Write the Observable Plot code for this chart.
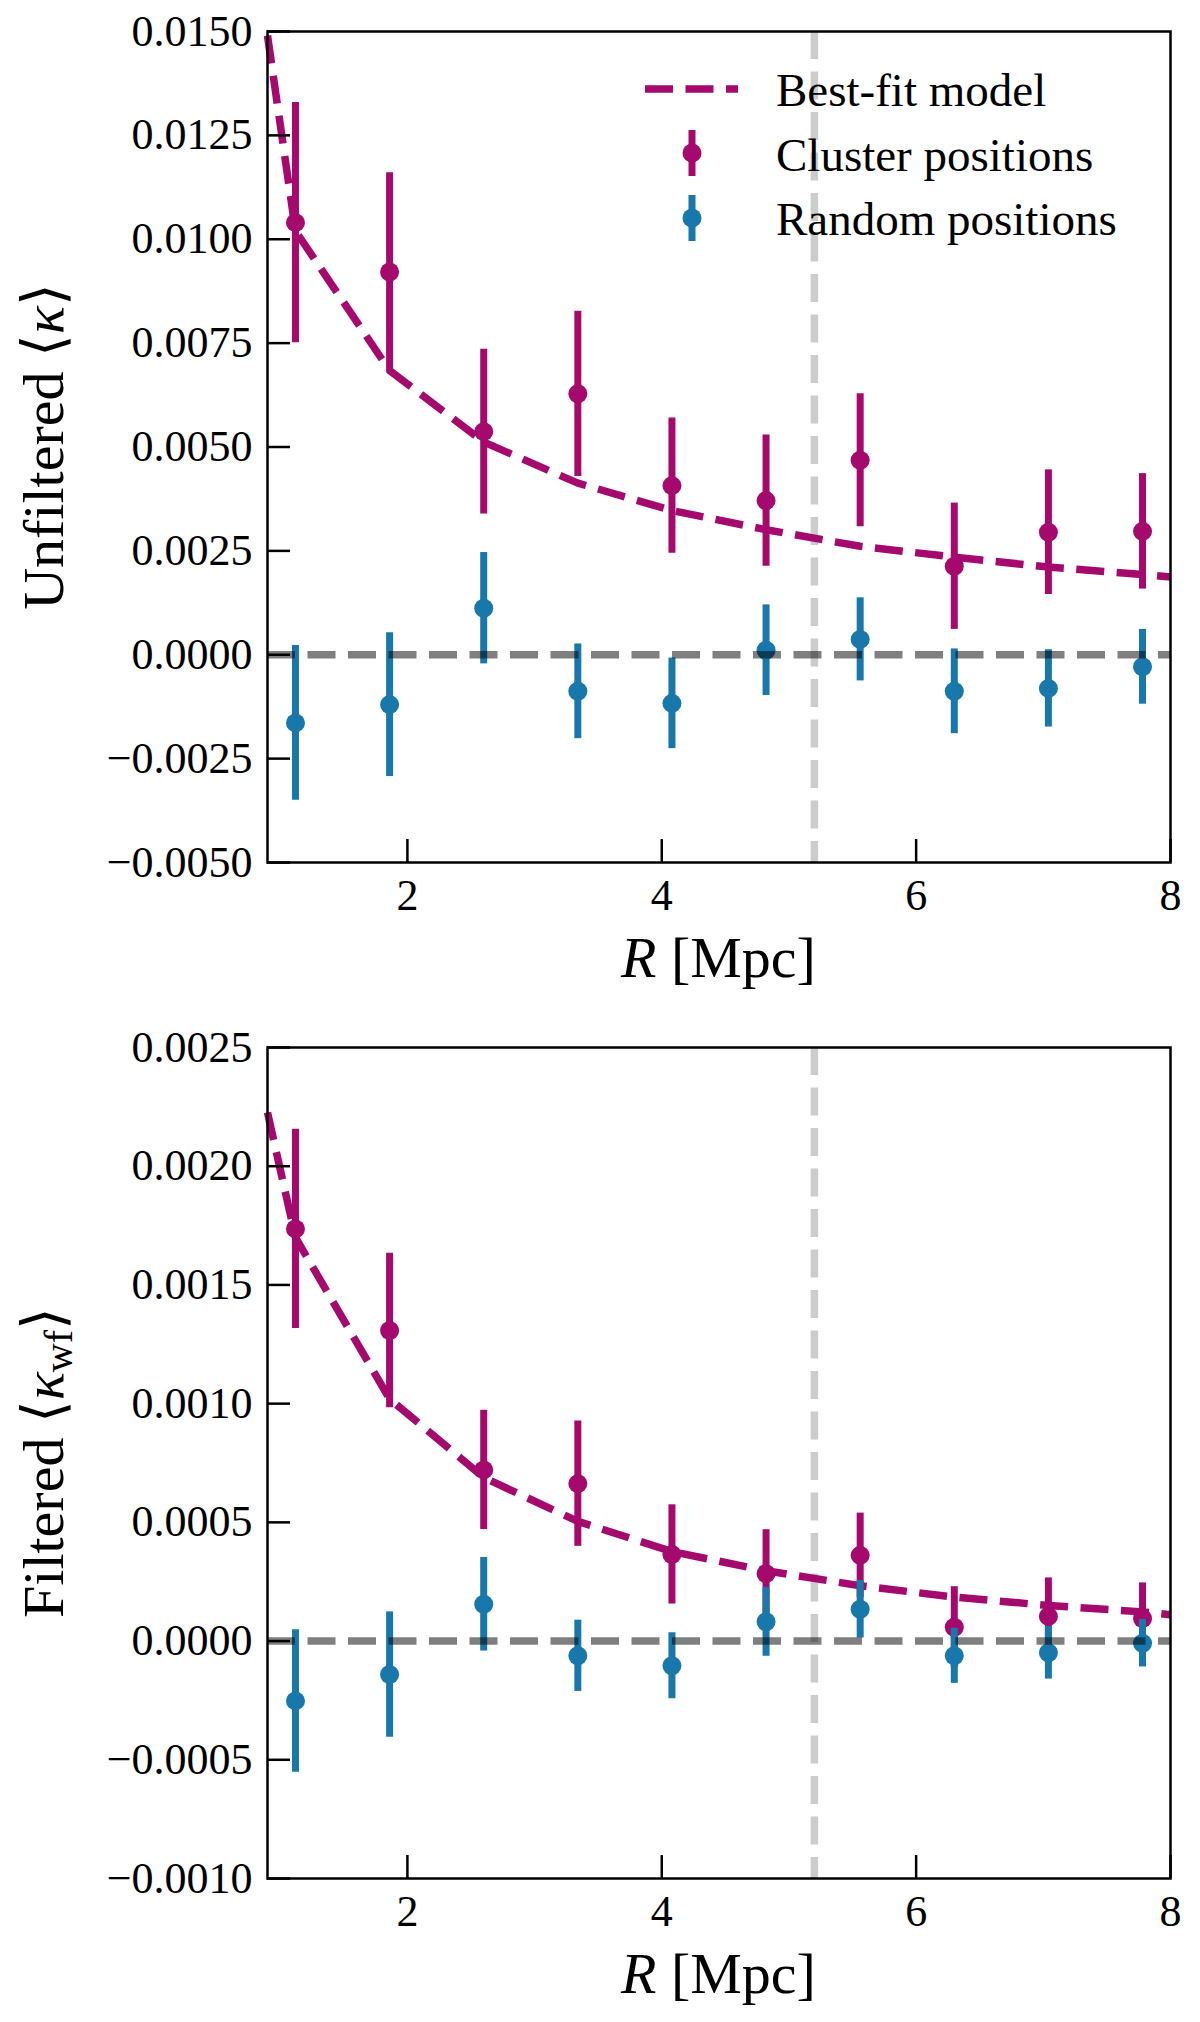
<!DOCTYPE html>
<html>
<head>
<meta charset="utf-8">
<script src="https://cdn.jsdelivr.net/npm/d3@7"></script>
<script src="https://cdn.jsdelivr.net/npm/@observablehq/plot@0.6"></script>
<style>
  body { margin: 0; background: white; overflow: hidden; }
  #chart { width: 1200px; }
  #chart svg { display: block; }
</style>
</head>
<body>
<div id="chart"></div>
<script>
  // radial bins [Mpc]
  const radius = [1.12, 1.86, 2.60, 3.34, 4.08, 4.82, 5.56, 6.30, 7.04, 7.78];
  const cutRadius = 5.2;
  const xTicks = [2, 4, 6, 8];

  // unfiltered <kappa>
  const unfCluster    = [0.01040, 0.00921, 0.00537, 0.00628, 0.00407, 0.00371, 0.00468, 0.00213, 0.00295, 0.00297];
  const unfClusterErr = [0.00289, 0.00239, 0.00198, 0.00199, 0.00163, 0.00158, 0.00160, 0.00152, 0.00150, 0.00139];
  const unfRandom     = [-0.00164, -0.00120, 0.00112, -0.00088, -0.00117, 0.00011, 0.00037, -0.00088, -0.00081, -0.00029];
  const unfRandomErr  = [0.00186, 0.00173, 0.00134, 0.00114, 0.00109, 0.00109, 0.00100, 0.00102, 0.00093, 0.00090];
  const unfModelR     = [0.9, 1.12, 1.86, 2.60, 3.34, 4.08, 4.82, 5.56, 6.30, 7.04, 7.78, 8.0];
  const unfModel      = [0.0149, 0.0102, 0.00684, 0.00512, 0.00413, 0.00347, 0.00301, 0.00261, 0.00235, 0.00211, 0.00193, 0.00187];
  const unfTicks      = [-0.005, -0.0025, 0, 0.0025, 0.005, 0.0075, 0.01, 0.0125, 0.015];

  // filtered <kappa_wf>
  const filCluster    = [0.001736, 0.001308, 0.000721, 0.000663, 0.000365, 0.000284, 0.000361, 0.000058, 0.000104, 0.000095];
  const filClusterErr = [0.000420, 0.000325, 0.000251, 0.000264, 0.000209, 0.000185, 0.000178, 0.000171, 0.000162, 0.000150];
  const filRandom     = [-0.000252, -0.000141, 0.000155, -0.000062, -0.000104, 0.000081, 0.000134, -0.000062, -0.000049, -0.000009];
  const filRandomErr  = [0.000300, 0.000264, 0.000197, 0.000150, 0.000139, 0.000145, 0.000121, 0.000116, 0.000111, 0.000100];
  const filModelR     = [0.9, 1.12, 1.86, 2.60, 3.34, 4.08, 4.82, 5.56, 6.30, 7.04, 7.78, 8.0];
  const filModel      = [0.002226, 0.00170, 0.00102, 0.000689, 0.000504, 0.000377, 0.000296, 0.000233, 0.000185, 0.000150, 0.000123, 0.000111];
  const filTicks      = [-0.001, -0.0005, 0, 0.0005, 0.001, 0.0015, 0.002, 0.0025];

  const magenta = "#a6096e";
  const blue = "#1978ab";
  const dash = "28,12.5";
  const serif = "Liberation Serif, serif";

  function panel(opts) {
    const clusterData = radius.map((r, i) => ({r, v: opts.cluster[i], e: opts.clusterErr[i]}));
    const randomData = radius.map((r, i) => ({r, v: opts.random[i], e: opts.randomErr[i]}));
    const modelData = opts.modelR.map((r, i) => ({r, v: opts.model[i]}));

    const chart = Plot.plot({
      width: 1200,
      height: 1011,
      marginLeft: 267,
      marginRight: 30,
      marginTop: opts.marginTop,
      marginBottom: 1011 - opts.marginTop - 831,
      x: {domain: [0.9, 8], label: null},
      y: {domain: opts.domain, label: null},
      style: {fontFamily: serif, background: "white", color: "black"},
      marks: [
        Plot.ruleX([cutRadius], {stroke: "#cccccc", strokeWidth: 7.5, strokeDasharray: dash}),
        Plot.line(modelData, {x: "r", y: "v", stroke: magenta, strokeWidth: 7.5,
          strokeDasharray: dash, strokeLinecap: "butt"}),
        Plot.ruleX(clusterData, {x: "r", y1: d => d.v - d.e, y2: d => d.v + d.e, stroke: magenta, strokeWidth: 7}),
        Plot.dot(clusterData, {x: "r", y: "v", r: 9.5, fill: magenta}),
        Plot.ruleX(randomData, {x: "r", y1: d => d.v - d.e, y2: d => d.v + d.e, stroke: blue, strokeWidth: 7}),
        Plot.dot(randomData, {x: "r", y: "v", r: 9.5, fill: blue}),
        Plot.ruleY([0], {stroke: "black", strokeOpacity: 0.5, strokeWidth: 7.5, strokeDasharray: dash}),
        Plot.frame({stroke: "black", strokeWidth: 2.5}),
        // inward ticks
        Plot.axisY({ticks: opts.ticks, tickSize: 23, dx: 23, text: null, strokeWidth: 2.5, label: null}),
        Plot.axisY({ticks: opts.ticks, tickSize: 0, tickPadding: 15, tickFormat: d3.format(".4f"),
          fontSize: 44, fontFamily: serif, label: null}),
        Plot.axisX({ticks: xTicks, tickSize: 23, dy: -23, text: null, strokeWidth: 2.5, label: null}),
        Plot.axisX({ticks: xTicks, tickSize: 0, tickPadding: 16, tickFormat: d3.format("d"),
          fontSize: 44, fontFamily: serif, label: null})
      ]
    });

    const svg = d3.select(chart);
    const frameBottom = opts.marginTop + 831;

    // x label
    const xl = svg.append("text")
      .attr("x", 718.5).attr("y", frameBottom + 115)
      .attr("text-anchor", "middle")
      .style("font-family", serif).style("font-size", "58px").attr("fill", "black");
    xl.append("tspan").style("font-style", "italic").text("R");
    xl.append("tspan").text(" [Mpc]");

    // y label
    const yl = svg.append("text")
      .attr("transform", `translate(63,${opts.marginTop + 415.5}) rotate(-90)`)
      .attr("text-anchor", "middle")
      .style("font-family", serif).style("font-size", "58px").attr("fill", "black");
    yl.append("tspan").text(opts.yName + " \u27E8");
    yl.append("tspan").style("font-style", "italic").text("\u03BA");
    if (opts.sub) {
      yl.append("tspan").attr("dy", 9).style("font-size", "40px").text(opts.sub);
      yl.append("tspan").attr("dy", -9).text("\u27E9");
    } else {
      yl.append("tspan").text("\u27E9");
    }
    return chart;
  }

  const upperPanel = panel({
    marginTop: 31, domain: [-0.005, 0.015], ticks: unfTicks,
    cluster: unfCluster, clusterErr: unfClusterErr, random: unfRandom, randomErr: unfRandomErr,
    modelR: unfModelR, model: unfModel, yName: "Unfiltered"
  });
  const lowerPanel = panel({
    marginTop: 36, domain: [-0.001, 0.0025], ticks: filTicks,
    cluster: filCluster, clusterErr: filClusterErr, random: filRandom, randomErr: filRandomErr,
    modelR: filModelR, model: filModel, yName: "Filtered", sub: "wf"
  });

  // legend in the upper panel
  const lg = d3.select(upperPanel).append("g")
    .attr("text-anchor", "start")
    .style("font-family", serif).style("font-size", "47px");
  lg.append("line").attr("x1", 645).attr("x2", 738).attr("y1", 89).attr("y2", 89)
    .attr("stroke", magenta).attr("stroke-width", 7.5).attr("stroke-dasharray", dash);
  [[magenta, 153], [blue, 218]].forEach(([c, y]) => {
    lg.append("line").attr("x1", 692).attr("x2", 692).attr("y1", y - 23).attr("y2", y + 23)
      .attr("stroke", c).attr("stroke-width", 7);
    lg.append("circle").attr("cx", 692).attr("cy", y).attr("r", 9.5).attr("fill", c);
  });
  [["Best-fit model", 106], ["Cluster positions", 171], ["Random positions", 235]].forEach(([t, y]) => {
    lg.append("text").attr("x", 776).attr("y", y).attr("fill", "black")
      .attr("text-anchor", "start").text(t);
  });

  document.getElementById("chart").append(upperPanel, lowerPanel);
</script>
</body>
</html>
